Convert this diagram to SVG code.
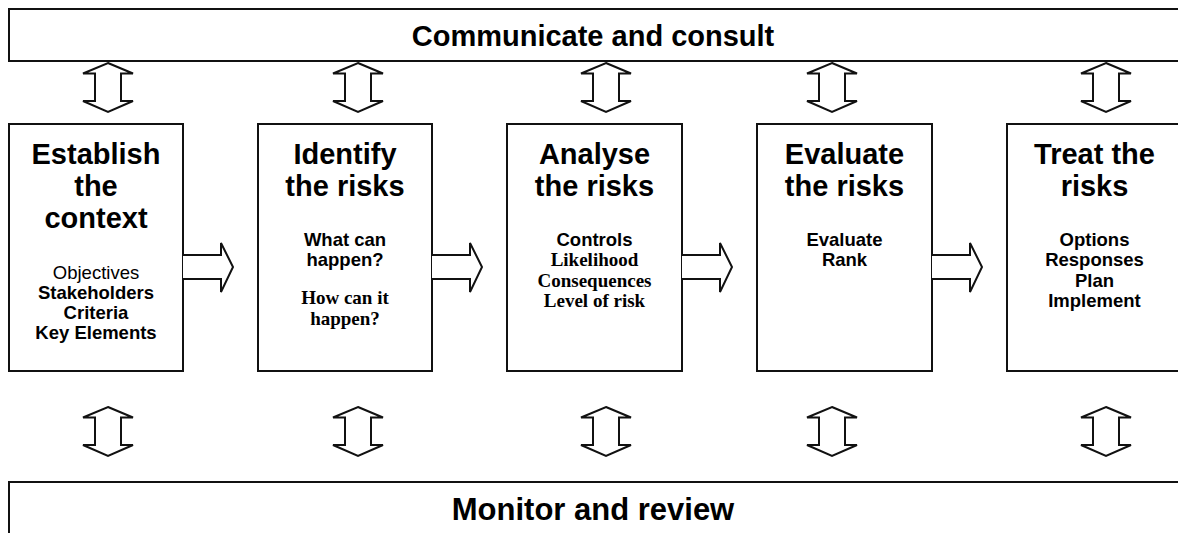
<svg xmlns="http://www.w3.org/2000/svg" xmlns:xlink="http://www.w3.org/1999/xlink" width="1178" height="533" viewBox="0 0 1178 533">
<style>
.box{fill:#fff;stroke:#111;stroke-width:2}
.arr{fill:#fff;stroke:#111;stroke-width:2;stroke-linejoin:miter}
.band{font-family:"Liberation Sans",Arial,sans-serif;font-weight:bold;font-size:29px;fill:#000;text-anchor:middle}
.big{font-size:31px}
.title{font-family:"Liberation Sans",Arial,sans-serif;font-weight:bold;font-size:29px;fill:#000;text-anchor:middle}
.sub{font-family:"Liberation Sans",Arial,sans-serif;font-weight:bold;font-size:18.5px;fill:#000;text-anchor:middle}
.reg{font-weight:normal}
.ser{font-family:"Liberation Serif","Times New Roman",serif;font-weight:bold;font-size:19px;fill:#000;text-anchor:middle}
</style>
<defs>
<path id="dbl" d="M0,0 L25,10.5 L13,10.5 L13,38 L25,38 L0,49 L-25,38 L-13,38 L-13,10.5 L-25,10.5 Z"/>
<path id="rt" d="M0,0 L38,0 L38,-12 L50,12 L38,37 L38,24 L0,24"/>
</defs>
<rect width="1178" height="533" fill="#fff"/>
<g id="communicate">
<rect class="box" x="9" y="9" width="1200" height="52"/>
<text class="band" x="593" y="46">Communicate and consult</text>
</g>
<g id="monitor">
<rect class="box" x="9" y="482" width="1200" height="100"/>
<text class="band big" x="593" y="520">Monitor and review</text>
</g>
<g id="establish">
<rect class="box" x="9" y="124" width="174" height="247"/>
<text class="title" x="96" y="164">Establish</text>
<text class="title" x="96" y="196">the</text>
<text class="title" x="96" y="228">context</text>
<text class="sub reg" x="96" y="279">Objectives</text>
<text class="sub" x="96" y="299">Stakeholders</text>
<text class="sub" x="96" y="319">Criteria</text>
<text class="sub" x="96" y="339">Key Elements</text>
</g>
<g id="identify">
<rect class="box" x="258" y="124" width="174" height="247"/>
<text class="title" x="345" y="164">Identify</text>
<text class="title" x="345" y="196">the risks</text>
<text class="sub" x="345" y="246">What can</text>
<text class="sub" x="345" y="266">happen?</text>
<text class="ser" x="345" y="304">How can it</text>
<text class="ser" x="345" y="325">happen?</text>
</g>
<g id="analyse">
<rect class="box" x="507" y="124" width="175" height="247"/>
<text class="title" x="594.5" y="164">Analyse</text>
<text class="title" x="594.5" y="196">the risks</text>
<text class="sub" x="594.5" y="246">Controls</text>
<text class="ser" x="594.5" y="266">Likelihood</text>
<text class="ser" x="594.5" y="287">Consequences</text>
<text class="ser" x="594.5" y="307">Level of risk</text>
</g>
<g id="evaluate">
<rect class="box" x="757" y="124" width="175" height="247"/>
<text class="title" x="844.5" y="164">Evaluate</text>
<text class="title" x="844.5" y="196">the risks</text>
<text class="sub" x="844.5" y="246">Evaluate</text>
<text class="sub" x="844.5" y="266">Rank</text>
</g>
<g id="treat">
<rect class="box" x="1007" y="124" width="200" height="247"/>
<text class="title" x="1094.5" y="164">Treat the</text>
<text class="title" x="1094.5" y="196">risks</text>
<text class="sub" x="1094.5" y="246">Options</text>
<text class="sub" x="1094.5" y="266">Responses</text>
<text class="sub" x="1094.5" y="287">Plan</text>
<text class="sub" x="1094.5" y="307">Implement</text>
</g>
<g id="connectors">
<use href="#dbl" xlink:href="#dbl" class="arr" x="108" y="63"/>
<use href="#dbl" xlink:href="#dbl" class="arr" x="358" y="63"/>
<use href="#dbl" xlink:href="#dbl" class="arr" x="606" y="63"/>
<use href="#dbl" xlink:href="#dbl" class="arr" x="832" y="63"/>
<use href="#dbl" xlink:href="#dbl" class="arr" x="1106" y="63"/>
<use href="#dbl" xlink:href="#dbl" class="arr" x="108" y="407"/>
<use href="#dbl" xlink:href="#dbl" class="arr" x="358" y="407"/>
<use href="#dbl" xlink:href="#dbl" class="arr" x="606" y="407"/>
<use href="#dbl" xlink:href="#dbl" class="arr" x="832" y="407"/>
<use href="#dbl" xlink:href="#dbl" class="arr" x="1106" y="407"/>
<use href="#rt" xlink:href="#rt" class="arr" x="183" y="255"/>
<use href="#rt" xlink:href="#rt" class="arr" x="432" y="255"/>
<use href="#rt" xlink:href="#rt" class="arr" x="682" y="255"/>
<use href="#rt" xlink:href="#rt" class="arr" x="932" y="255"/>
</g>
</svg>
